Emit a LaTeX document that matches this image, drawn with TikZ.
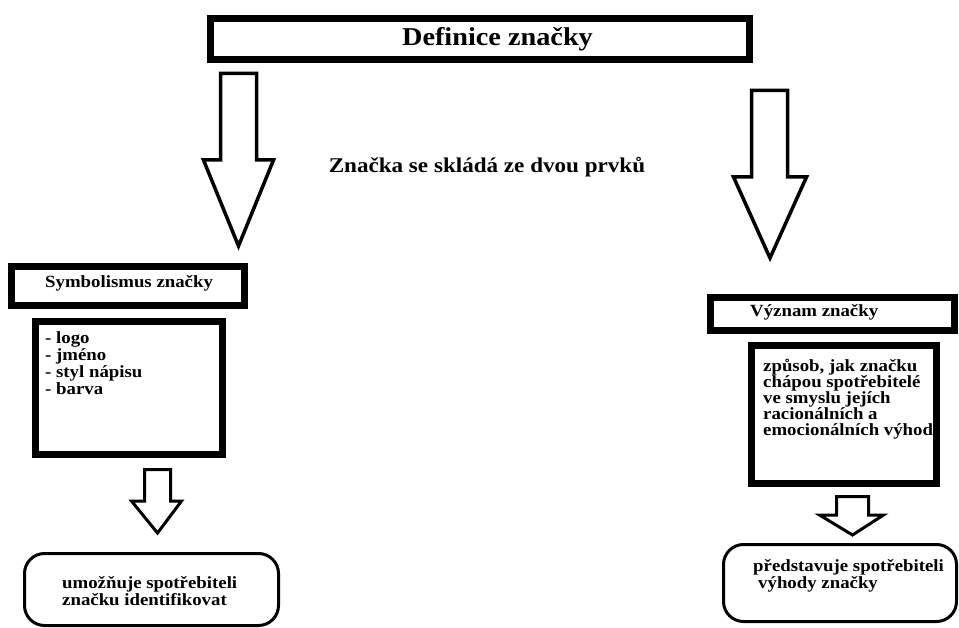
\documentclass[tikz,border=0pt]{standalone}
\usepackage{fontspec}
\setmainfont[FakeStretch=1.1]{Liberation Serif}

\begin{document}
\begin{tikzpicture}[x=1pt,y=-1pt]
            \useasboundingbox (0,0) rectangle (959,628);
            \begin{scope}[every node/.style={draw=black,line width=7pt,inner sep=0pt}]
                \node[minimum width=539pt,minimum height=41pt] (def) at (480,39) {};
                \node[minimum width=233pt,minimum height=39pt] (sym) at (128,286) {};
                \node[minimum width=187pt,minimum height=133pt] (symlist) at (129,388) {};
                \node[minimum width=244pt,minimum height=33pt] (vyz) at (832.5,314) {};
                \node[minimum width=185pt,minimum height=138pt] (vyztext) at (844,414.5) {};
            \end{scope}
            \begin{scope}[every node/.style={draw=black,line width=3pt,rounded corners=20pt,inner sep=0pt}]
                \node[minimum width=254pt,minimum height=72pt] (ident) at (151.5,589.5) {};
                \node[minimum width=233pt,minimum height=77pt] (vyhody) at (840,583) {};
            \end{scope}
            \begin{scope}[line width=3.5pt]
                \draw (220.5,73.5) -- (256.5,73.5) -- (256.5,160) -- (273.5,160) -- (238.5,246) -- (203.5,160) -- (220.5,160) -- cycle;
                \draw (751.5,90.5) -- (787.5,90.5) -- (787.5,177) -- (806.5,177) -- (770,258) -- (733.5,177) -- (751.5,177) -- cycle;
            \end{scope}
            \begin{scope}[line width=3pt]
                \draw (144.5,469.5) -- (170.5,469.5) -- (170.5,501) -- (181.5,501) -- (157.5,533) -- (131.5,501) -- (144.5,501) -- cycle;
                \draw (836.5,496.5) -- (868.5,496.5) -- (868.5,515) -- (883.5,515) -- (852.5,535) -- (819.5,515) -- (836.5,515) -- cycle;
            \end{scope}
            \begin{scope}[every node/.style={inner sep=0pt,font=\bfseries\fontsize{17.1}{17}\selectfont}]
                \node[font=\bfseries\fontsize{25.7}{27}\selectfont] (deflabel) at (497.5,39) {Definice značky};
                \node[font=\bfseries\fontsize{21}{23}\selectfont] (parts) at (487,167) {Značka se skládá ze dvou prvků};
                \node[anchor=west] (symlabel) at (45,283) {Symbolismus značky};
                \node[anchor=north west,align=left] (symitems) at (45,331) {- logo\\- jméno\\- styl nápisu\\- barva};
                \node[anchor=west] (vyzlabel) at (750,312) {Význam značky};
                \node[anchor=north west,align=left,font=\bfseries\fontsize{17.1}{16}\selectfont] (vyzitems) at (763,359) {způsob, jak značku\\chápou spotřebitelé\\ve smyslu jejích\\racionálních a\\emocionálních výhod};
                \node[anchor=north west,align=left] (identlabel) at (62,576) {umožňuje spotřebiteli\\značku identifikovat};
                \node[anchor=north west,align=left] (vyhodylabel) at (753,559) {představuje spotřebiteli\\\hspace*{5pt}výhody značky};
            \end{scope}
        \end{tikzpicture}
\end{document}
